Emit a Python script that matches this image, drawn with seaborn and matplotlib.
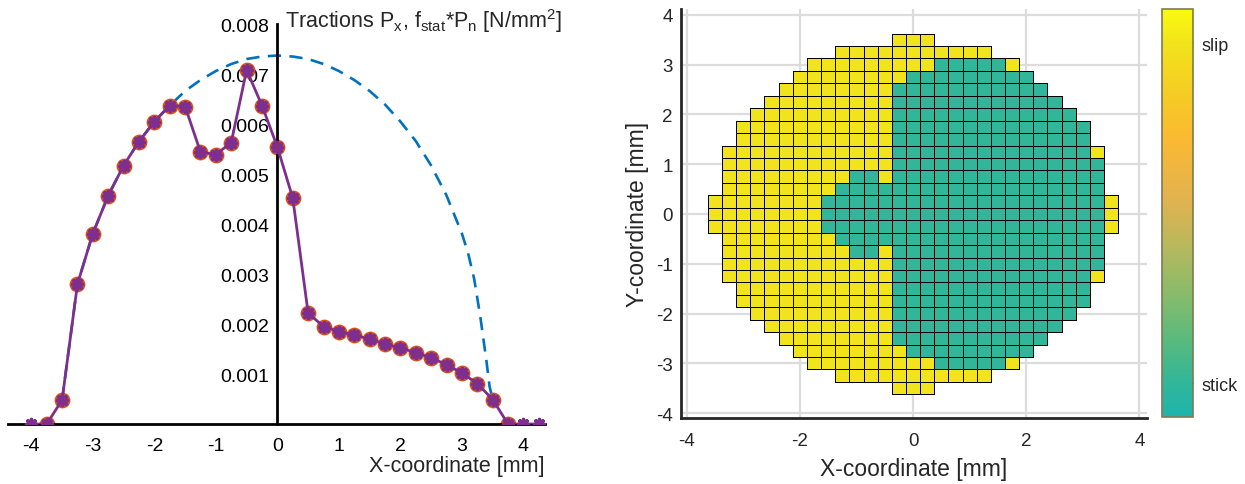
import numpy as np
import matplotlib
matplotlib.use("Agg")
import matplotlib.pyplot as plt
import seaborn as sns
from matplotlib.colors import LinearSegmentedColormap

# ---- left panel: tractions along y = 0 ----
px_x = [-4.0, -3.75, -3.5, -3.25, -3.0, -2.75, -2.5, -2.25, -2.0, -1.75, -1.5, -1.25,
        -1.0, -0.75, -0.5, -0.25, 0.0, 0.25, 0.5, 0.75, 1.0, 1.25, 1.5, 1.75, 2.0,
        2.25, 2.5, 2.75, 3.0, 3.25, 3.5, 3.75, 4.0, 4.25]
px_y = [0.0, 0.0, 0.00048, 0.0028, 0.00381, 0.00457, 0.00517, 0.00565, 0.00605, 0.00637,
        0.00635, 0.00544, 0.00539, 0.00563, 0.00708, 0.00637, 0.00554, 0.00452, 0.00222,
        0.00195, 0.00185, 0.00178, 0.0017, 0.0016, 0.00152, 0.00143, 0.00132, 0.00119,
        0.00102, 0.00081, 0.00049, 0.0, 0.0, 0.0]
# points inside the contact (orange circles)
contact_x = px_x[1:-2]
contact_y = px_y[1:-2]

# f_stat * Pn (dashed)
fpn_x = [-3.5, -3.25, -3.0, -2.75, -2.5, -2.25, -2.0, -1.75, -1.5, -1.25, -1.0, -0.75,
         -0.5, -0.25, 0.0, 0.25, 0.5, 0.75, 1.0, 1.25, 1.5, 1.75, 2.0, 2.25, 2.5, 2.75,
         3.0, 3.1, 3.2, 3.3, 3.4, 3.45, 3.5]
fpn_y = [0.00048, 0.0028, 0.00381, 0.00457, 0.00517, 0.00565, 0.00605, 0.00637, 0.00666,
         0.00688, 0.00706, 0.0072, 0.0073, 0.00735, 0.00737, 0.00735, 0.0073, 0.0072,
         0.00706, 0.00688, 0.00666, 0.00639, 0.00605, 0.00566, 0.00517, 0.00457, 0.00381,
         0.00342, 0.0029, 0.00214, 0.00125, 0.00075, 0.00049]

y_ticks = [0.001, 0.002, 0.003, 0.004, 0.005, 0.006, 0.007, 0.008]
y_ticklabels = ["0.001", "0.002", "0.003", "0.004", "0.005", "0.006", "0.007", "0.008"]

# ---- right panel: stick / slip map, rows from y = +3.5 (top) to y = -3.5 ----
# Y = slip, T = stick, . = outside contact
slip_map = [
    "." * 13 + "Y" * 3 + "." * 13,
    "." * 9 + "Y" * 11 + "." * 9,
    "." * 7 + "Y" * 9 + "T" * 5 + "Y" + "." * 7,
    "." * 6 + "Y" * 8 + "T" * 9 + "." * 6,
    "." * 5 + "Y" * 8 + "T" * 11 + "." * 5,
    "." * 4 + "Y" * 9 + "T" * 12 + "." * 4,
    "." * 3 + "Y" * 10 + "T" * 13 + "." * 3,
    "." * 2 + "Y" * 11 + "T" * 14 + "." * 2,
    "." * 2 + "Y" * 11 + "T" * 14 + "." * 2,
    "." + "Y" * 12 + "T" * 14 + "Y" + ".",
    "." + "Y" * 12 + "T" * 15 + ".",
    "." + "Y" * 9 + "T" * 2 + "Y" + "T" * 15 + ".",
    "." + "Y" * 8 + "T" * 19 + ".",
    "Y" * 8 + "T" * 20 + "Y",
    "Y" * 8 + "T" * 20 + "Y",
    "Y" * 8 + "T" * 20 + "Y",
    "." + "Y" * 8 + "T" * 19 + ".",
    "." + "Y" * 9 + "T" * 2 + "Y" + "T" * 15 + ".",
    "." + "Y" * 12 + "T" * 15 + ".",
    "." + "Y" * 12 + "T" * 14 + "Y" + ".",
    "." * 2 + "Y" * 11 + "T" * 14 + "." * 2,
    "." * 2 + "Y" * 11 + "T" * 14 + "." * 2,
    "." * 3 + "Y" * 10 + "T" * 13 + "." * 3,
    "." * 4 + "Y" * 9 + "T" * 12 + "." * 4,
    "." * 5 + "Y" * 8 + "T" * 11 + "." * 5,
    "." * 6 + "Y" * 8 + "T" * 9 + "." * 6,
    "." * 7 + "Y" * 9 + "T" * 5 + "Y" + "." * 7,
    "." * 9 + "Y" * 11 + "." * 9,
    "." * 13 + "Y" * 3 + "." * 13,
]
state_values = {"Y": 1.0, "T": 0.0, ".": np.nan}
state_labels = ["stick", "slip"]
cell_size = 0.25

PURPLE = "#7E2F8E"
ORANGE = "#D95319"
BLUE = "#0072BD"

sns.set_theme(style="white")
plt.rcParams["font.family"] = ["Liberation Sans", "DejaVu Sans"]
plt.rcParams["mathtext.default"] = "regular"
plt.rcParams["axes.unicode_minus"] = False

fig = plt.figure(figsize=(12.45, 4.85), dpi=100)

# ----- left -----
ax1 = fig.add_axes([0.0064, 0.1237, 0.4313, 0.8247])
sns.lineplot(x=fpn_x, y=fpn_y, ax=ax1, color=BLUE, lw=1.9,
             linestyle=(0, (5, 3.2)), zorder=1)
sns.scatterplot(x=contact_x, y=contact_y, ax=ax1, color=ORANGE, s=130,
                edgecolor=ORANGE, linewidth=0, zorder=2)
sns.lineplot(x=px_x, y=px_y, ax=ax1, color=PURPLE, lw=2.0, zorder=3)
sns.scatterplot(x=px_x, y=px_y, ax=ax1, color=PURPLE, marker=(8, 2, 0), s=52,
                linewidth=2.5, zorder=4)

ax1.set_xlim(-4.38, 4.35)
ax1.set_ylim(0, 0.008)
ax1.spines["left"].set_position(("data", 0))
ax1.spines["bottom"].set_position(("data", 0))
for s in ["top", "right"]:
    ax1.spines[s].set_visible(False)
for s in ["left", "bottom"]:
    ax1.spines[s].set_linewidth(2)
    ax1.spines[s].set_color("black")
ax1.set_xticks(range(-4, 5))
ax1.set_yticks(y_ticks)
ax1.set_yticklabels(y_ticklabels)
ax1.tick_params(direction="in", length=4, width=2, labelsize=14, colors="black")
ax1.tick_params(axis="x", pad=9)
ax1.tick_params(axis="y", pad=6)
ax1.set_xlabel("X-coordinate [mm]", fontsize=15.5, loc="right")
ax1.xaxis.set_label_coords(1.0, -0.078)
ax1.text(0.12, 0.007934, r"Tractions P$_x$, f$_{stat}$*P$_n$ [N/mm$^2$]",
         fontsize=15.5, ha="left", va="baseline")

# ----- right -----
cmap = LinearSegmentedColormap.from_list("stickslip", [
    (0.00, "#1eb4ac"), (0.09, "#34b698"), (0.19, "#5aba7d"), (0.31, "#8cbb69"),
    (0.43, "#bcb85c"), (0.53, "#e1b250"), (0.68, "#fab932"), (0.80, "#f5cd23"),
    (0.92, "#f2e41c"), (1.00, "#f9fa0e")])

ax2 = fig.add_axes([0.547, 0.1361, 0.3741, 0.8433])
n = len(slip_map)
x_edges = (np.arange(n + 1) - n / 2) * cell_size
y_edges = x_edges[::-1]
Z = np.ma.masked_invalid(np.array([[state_values[c] for c in row] for row in slip_map]))
mesh = ax2.pcolormesh(x_edges, y_edges, Z, cmap=cmap, vmin=-0.1, vmax=1.1,
                      edgecolors="black", linewidth=0.6)
# no outline for cells outside the contact
edge_rgba = np.zeros((Z.size, 4))
edge_rgba[:, 3] = np.where(np.ma.getmaskarray(Z).ravel(), 0.0, 1.0)
mesh.set_edgecolor(edge_rgba)

ax2.set_xlim(-4.1, 4.13)
ax2.set_ylim(-4.1, 4.12)
ax2.set_xticks([-4, -2, 0, 2, 4])
ax2.set_yticks(range(-4, 5))
ax2.grid(True, color="#dcdcdc", lw=1.6)
ax2.set_axisbelow(True)
for s in ["top", "right"]:
    ax2.spines[s].set_visible(False)
for s in ["left", "bottom"]:
    ax2.spines[s].set_linewidth(2)
    ax2.spines[s].set_color("#262626")
ax2.tick_params(direction="in", length=4, width=1.8, labelsize=13.5, colors="#262626")
ax2.tick_params(axis="x", pad=10)
ax2.tick_params(axis="y", pad=6)
ax2.set_xlabel("X-coordinate [mm]", fontsize=16.5, labelpad=6, color="#262626")
ax2.set_ylabel("Y-coordinate [mm]", fontsize=16.5, labelpad=5, color="#262626")

cax = fig.add_axes([0.9333, 0.1381, 0.0249, 0.8412])
cb = fig.colorbar(mesh, cax=cax, ticks=[0, 1])
cb.ax.set_yticklabels(state_labels)
cb.outline.set_edgecolor("#7d7a55")
cb.outline.set_linewidth(1.2)
cb.ax.tick_params(direction="in", length=3, width=1, labelsize=13, colors="#262626", pad=6)

fig.savefig("out.png", dpi=100)
